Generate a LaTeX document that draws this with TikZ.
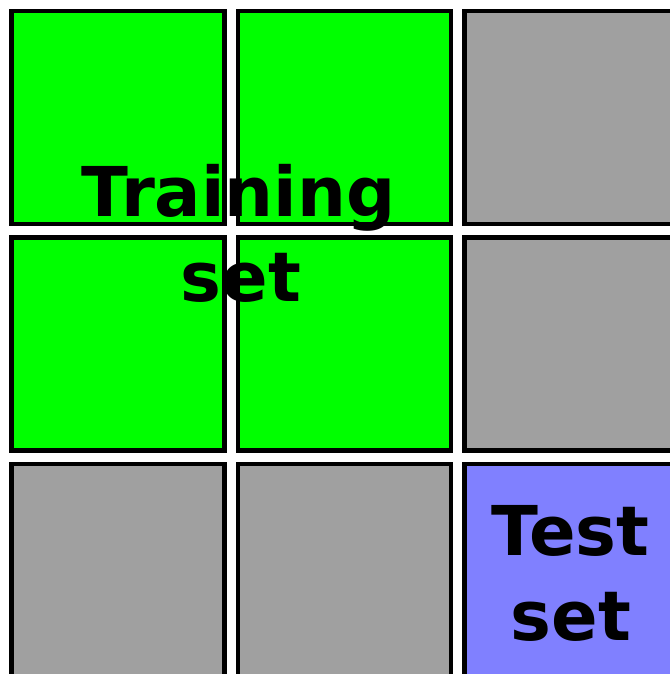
\documentclass[tikz,border=0pt]{standalone}
\usepackage{fontspec}
\setmainfont{DejaVu Sans}
\definecolor{trainG}{HTML}{00FF00}
\definecolor{cellGray}{HTML}{A0A0A0}
\definecolor{testB}{HTML}{8080FF}
\tikzset{
  cell/.style={draw=black, line width=4.5pt, minimum width=213pt, minimum height=213pt, inner sep=0pt, outer sep=0pt, anchor=north west},
  lbl/.style={font=\fontsize{68.7}{82}\selectfont\bfseries, anchor=base, inner sep=0pt}
}
\begin{document}
\begin{tikzpicture}[x=1pt,y=-1pt]
\useasboundingbox (0,0) rectangle (669,674);
\fill[white] (0,0) rectangle (669,674);
\node[cell, fill=trainG]   (c11) at (11.3,10.8) {};
\node[cell, fill=trainG]   (c12) at (237.9,10.8) {};
\node[cell, fill=cellGray] (c13) at (464.5,10.8) {};
\node[cell, fill=trainG]   (c21) at (11.3,237.4) {};
\node[cell, fill=trainG]   (c22) at (237.9,237.4) {};
\node[cell, fill=cellGray] (c23) at (464.5,237.4) {};
\node[cell, fill=cellGray] (c31) at (11.3,464.0) {};
\node[cell, fill=cellGray] (c32) at (237.9,464.0) {};
\node[cell, fill=testB]    (c33) at (464.5,464.0) {};
\node[lbl] (tr1) at (238.5,216.7) {Training};
\node[lbl] (tr2) at (241,301.7) {set};
\node[lbl] (te1) at (570.5,555.5) {Test};
\node[lbl] (te2) at (571,640.7) {set};
\end{tikzpicture}
\end{document}
